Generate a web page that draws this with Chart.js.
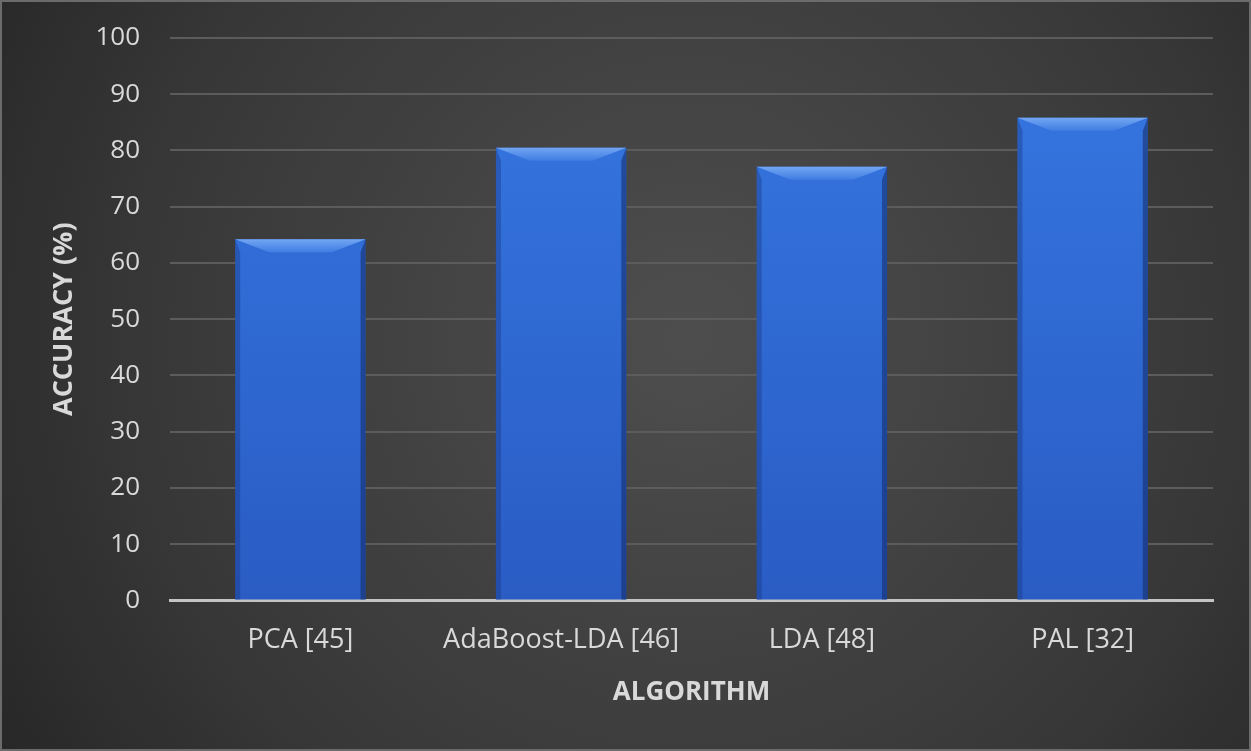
<!DOCTYPE html>
<html>
<head>
<meta charset="utf-8">
<script src="https://cdn.jsdelivr.net/npm/chart.js@4/dist/chart.umd.min.js"></script>
<style>
  html, body { margin: 0; padding: 0; background: #2b2b2b; }
  #wrap { width: 1251px; height: 751px; position: relative; }
</style>
</head>
<body>
<div id="wrap"><canvas id="chart" width="1251" height="751"></canvas></div>
<script>
var categories = ['PCA [45]', 'AdaBoost-LDA [46]', 'LDA [48]', 'PAL [32]'];
var accuracy = [64.2, 80.5, 77.1, 85.8];
var yTicks = [0, 10, 20, 30, 40, 50, 60, 70, 80, 90, 100];

// dark radial backdrop + thin frame
var backdrop = {
  id: 'backdrop',
  beforeDraw: function(chart) {
    var ctx = chart.ctx, w = chart.width, h = chart.height;
    ctx.save();
    var g = ctx.createRadialGradient(w * 0.55, h * 0.45, 20, w * 0.55, h * 0.45, w * 0.7);
    g.addColorStop(0, '#4d4d4d');
    g.addColorStop(0.6, '#383838');
    g.addColorStop(1, '#232323');
    ctx.fillStyle = g;
    ctx.fillRect(0, 0, w, h);
    ctx.strokeStyle = '#6b6b6b';
    ctx.lineWidth = 2;
    ctx.strokeRect(1, 1, w - 2, h - 2);
    ctx.restore();
  }
};

// bevel look on top of each bar
var bevel = {
  id: 'bevel',
  afterDatasetsDraw: function(chart) {
    var ctx = chart.ctx;
    chart.getDatasetMeta(0).data.forEach(function(bar) {
      var l = bar.x - bar.width / 2, r = bar.x + bar.width / 2;
      var t = bar.y, b = bar.base;
      var d = 13, s = 5;
      ctx.save();
      var tg = ctx.createLinearGradient(0, t, 0, t + d);
      tg.addColorStop(0, '#72a6f3');
      tg.addColorStop(1, '#3f7de2');
      ctx.fillStyle = tg;
      ctx.beginPath();
      ctx.moveTo(l, t); ctx.lineTo(r, t); ctx.lineTo(r - d * 2.6, t + d); ctx.lineTo(l + d * 2.6, t + d);
      ctx.closePath(); ctx.fill();
      ctx.fillStyle = 'rgba(20,50,120,0.35)';
      ctx.beginPath();
      ctx.moveTo(l, t); ctx.lineTo(l + s, t + d); ctx.lineTo(l + s, b); ctx.lineTo(l, b);
      ctx.closePath(); ctx.fill();
      ctx.fillStyle = 'rgba(15,35,90,0.5)';
      ctx.beginPath();
      ctx.moveTo(r, t); ctx.lineTo(r - s, t + d); ctx.lineTo(r - s, b); ctx.lineTo(r, b);
      ctx.closePath(); ctx.fill();
      ctx.restore();
    });
  }
};

var ctx = document.getElementById('chart').getContext('2d');
var chart = new Chart(ctx, {
  type: 'bar',
  data: {
    labels: categories,
    datasets: [{
      data: accuracy,
      backgroundColor: function(c) {
        var area = c.chart.chartArea;
        if (!area) return '#2f6bd8';
        var g = c.chart.ctx.createLinearGradient(0, area.top, 0, area.bottom);
        g.addColorStop(0, '#3677e2');
        g.addColorStop(1, '#2a5cc4');
        return g;
      },
      borderWidth: 0,
      barPercentage: 0.5,
      categoryPercentage: 1
    }]
  },
  options: {
    responsive: false,
    animation: false,
    layout: { padding: { left: 44, right: 38, top: 38, bottom: 39 } },
    plugins: { legend: { display: false }, tooltip: { enabled: false } },
    scales: {
      x: {
        grid: { display: false },
        border: { color: '#c4c4c4', width: 3 },
        ticks: { color: '#d9d9d9', font: { family: 'Open Sans', size: 27 }, padding: 16 },
        title: { display: true, text: 'ALGORITHM', color: '#d9d9d9',
                 font: { family: 'Open Sans', size: 26, weight: 'bold' }, padding: { top: 4 } }
      },
      y: {
        min: 0, max: 100,
        afterBuildTicks: function(axis) {
          axis.ticks = yTicks.map(function(v) { return { value: v }; });
        },
        afterFit: function(axis) {
          axis.width = 126;
          axis.paddingTop = 0;
          axis.paddingBottom = 0;
        },
        grid: { color: '#5c5c5c', lineWidth: 2, drawTicks: false },
        border: { display: false },
        ticks: { color: '#d9d9d9', font: { family: 'Open Sans', size: 26 }, padding: 30 },
        title: { display: true, text: 'ACCURACY (%)', color: '#d9d9d9',
                 font: { family: 'Open Sans', size: 27, weight: 'bold' }, padding: { bottom: 14 } }
      }
    }
  },
  plugins: [backdrop, bevel]
});
</script>
</body>
</html>
